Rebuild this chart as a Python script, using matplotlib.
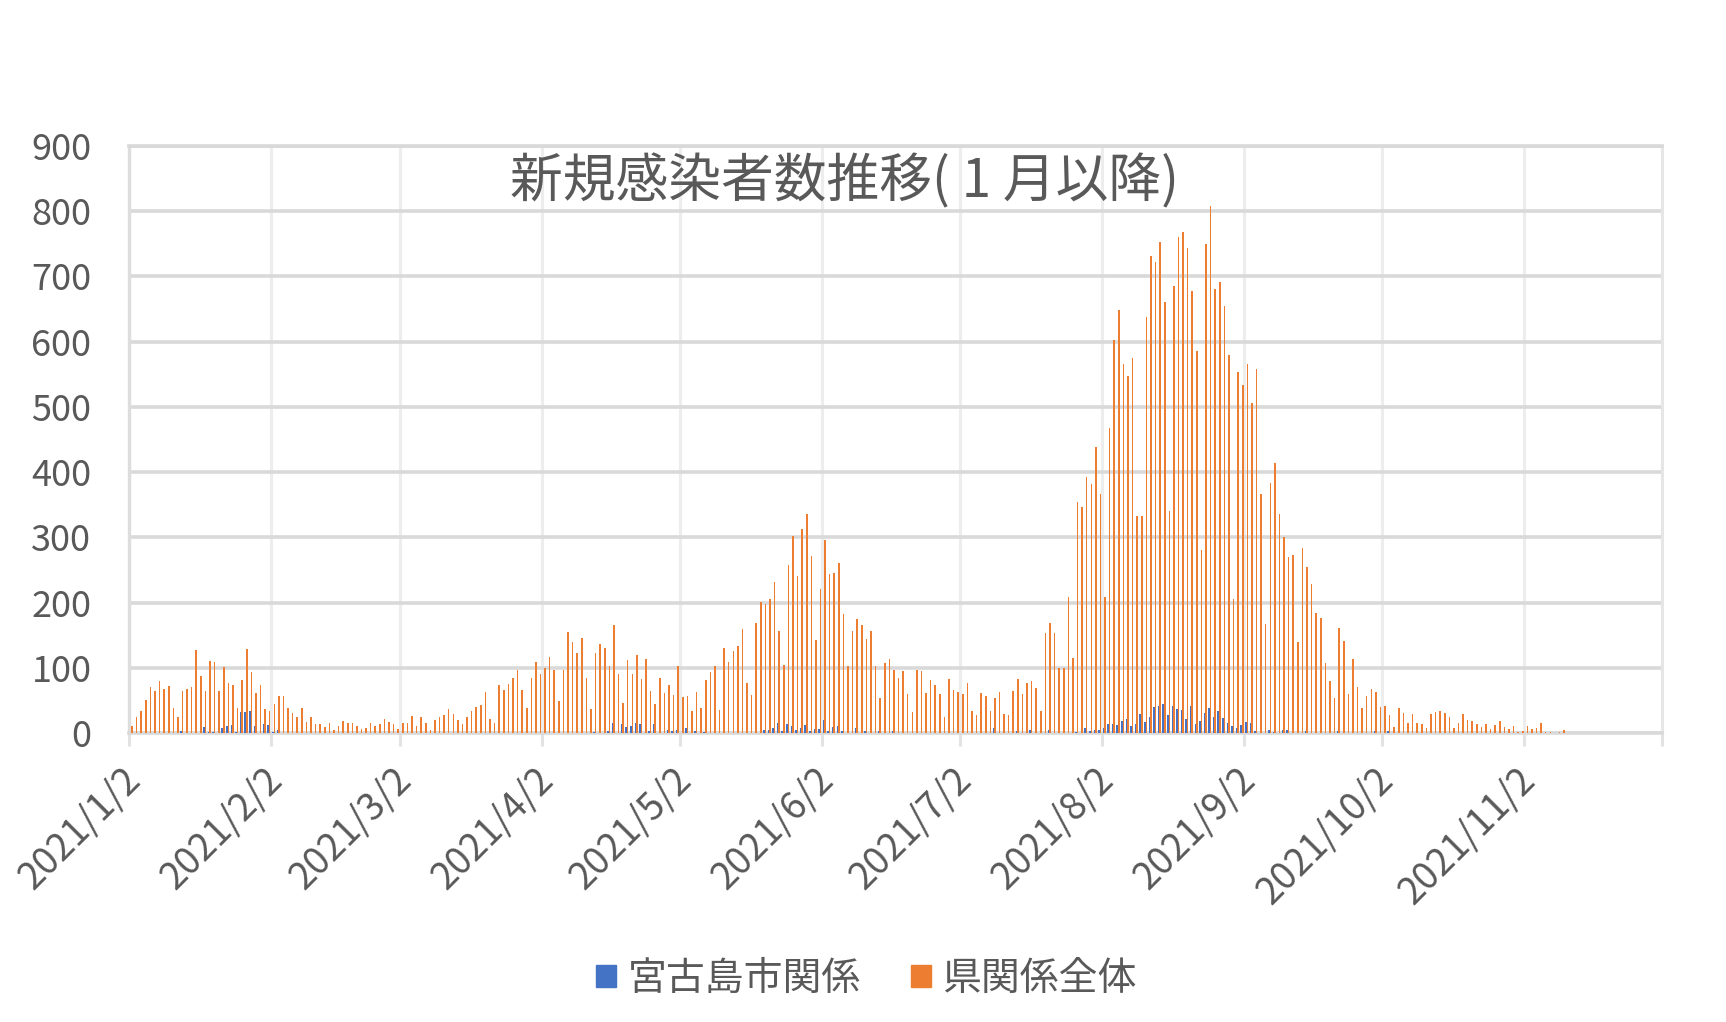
import matplotlib.pyplot as plt
from matplotlib.patches import Patch
from matplotlib.transforms import ScaledTranslation

plt.rcParams['font.family'] = ['Noto Sans CJK JP', 'DejaVu Sans']

# axis ticks: one per month, day offsets from 2021/1/2
month_starts = [0, 31, 59, 90, 120, 151, 181, 212, 243, 273, 304, 334]
month_labels = ['2021/1/2', '2021/2/2', '2021/3/2', '2021/4/2', '2021/5/2', '2021/6/2',
                '2021/7/2', '2021/8/2', '2021/9/2', '2021/10/2', '2021/11/2', '']

# 県関係全体 (daily), grouped by month starting on the 2nd
pref_jan = [10, 25, 34, 51, 70, 64, 80, 68, 72, 39, 25, 64, 68, 71, 127, 87, 65, 111, 109, 65,
            101, 77, 74, 39, 81, 129, 94, 61, 74, 37, 33]
pref_feb = [44, 57, 56, 39, 30, 25, 38, 17, 25, 14, 13, 9, 16, 4, 11, 18, 15, 16, 11, 6,
            8, 15, 10, 13, 21, 17, 13, 6]
pref_mar = [15, 16, 26, 11, 25, 16, 5, 20, 25, 27, 36, 29, 20, 14, 25, 33, 40, 43, 63, 21,
            16, 73, 66, 75, 85, 96, 66, 39, 85, 109, 90]
pref_apr = [100, 116, 96, 49, 97, 155, 140, 123, 145, 85, 36, 123, 136, 131, 103, 165, 90, 46, 112, 90,
            119, 83, 114, 65, 44, 85, 61, 74, 58, 103]
pref_may = [55, 56, 33, 63, 38, 81, 93, 103, 35, 130, 109, 125, 134, 160, 77, 58, 168, 201, 198, 206,
            231, 156, 104, 257, 302, 240, 312, 335, 272, 142, 220]
pref_jun = [296, 244, 245, 261, 182, 103, 157, 174, 166, 144, 156, 103, 53, 107, 114, 96, 84, 95, 60, 32,
            97, 95, 61, 81, 73, 60, 24, 82, 66, 63]
pref_jul = [60, 76, 33, 27, 61, 57, 34, 54, 63, 29, 27, 64, 82, 59, 76, 80, 69, 33, 154, 168,
            153, 100, 99, 209, 115, 354, 347, 392, 382, 439, 367]
pref_aug = [209, 468, 603, 648, 566, 548, 575, 333, 333, 638, 732, 722, 753, 661, 340, 685, 761, 768, 743, 677,
            585, 280, 750, 808, 680, 691, 655, 579, 206, 553, 534]
pref_sep = [565, 506, 558, 367, 167, 383, 414, 336, 301, 270, 273, 139, 284, 254, 229, 184, 176, 107, 79, 54,
            161, 141, 60, 114, 71, 39, 57, 68, 63, 40]
pref_oct = [42, 28, 9, 38, 30, 16, 29, 16, 14, 8, 29, 32, 34, 30, 25, 8, 16, 29, 20, 18,
            14, 9, 13, 6, 12, 18, 9, 6, 11, 2, 3]
pref_nov = [10, 6, 8, 15, 1, 2, 0, 1, 5]

# 宮古島市関係 (daily)
miya_jan = [0, 0, 0, 0, 0, 0, 0, 0, 0, 0, 0, 3, 0, 0, 0, 0, 9, 2, 2, 0,
            7, 10, 12, 2, 32, 32, 33, 10, 0, 14, 12]
miya_feb = [2, 5, 0, 0, 0, 0, 0, 0, 0, 0, 0, 0, 0, 0, 0, 0, 0, 0, 0, 0,
            0, 0, 0, 0, 0, 0, 0, 0]
miya_mar = [0, 0, 0, 0, 0, 0, 0, 0, 0, 0, 0, 0, 0, 0, 0, 0, 0, 0, 0, 0,
            0, 0, 0, 0, 0, 0, 0, 0, 0, 0, 0]
miya_apr = [0, 0, 0, 0, 0, 0, 0, 0, 0, 0, 0, 1, 0, 0, 3, 15, 0, 13, 9, 10,
            16, 13, 0, 3, 13, 0, 0, 4, 3, 4]
miya_may = [0, 8, 0, 3, 0, 2, 0, 0, 0, 0, 0, 0, 0, 0, 0, 0, 0, 0, 5, 5,
            7, 16, 3, 14, 10, 5, 8, 12, 3, 6, 6]
miya_jun = [20, 3, 9, 11, 3, 0, 0, 8, 0, 3, 0, 0, 3, 0, 0, 3, 0, 0, 0, 0,
            0, 0, 0, 0, 0, 0, 0, 0, 0, 0]
miya_jul = [0, 0, 0, 0, 0, 0, 0, 8, 0, 0, 0, 0, 3, 0, 0, 5, 0, 0, 0, 5,
            0, 0, 0, 0, 0, 2, 0, 8, 3, 4, 4]
miya_aug = [7, 14, 14, 12, 18, 21, 11, 14, 29, 17, 24, 40, 42, 45, 28, 42, 36, 35, 22, 41,
            14, 19, 30, 39, 25, 34, 23, 15, 10, 8, 12]
miya_sep = [17, 16, 3, 0, 0, 4, 1, 0, 5, 4, 0, 0, 0, 3, 0, 0, 0, 0, 0, 0,
            3, 0, 0, 0, 0, 0, 0, 0, 3, 0]
miya_oct = [0, 3, 0, 0, 0, 0, 0, 0, 0, 0, 0, 0, 0, 0, 0, 0, 0, 0, 0, 0,
            0, 0, 0, 0, 0, 0, 0, 0, 0, 0, 0]
miya_nov = [0, 0, 0, 0, 0, 0, 0, 0, 0]

pref_total = (pref_jan + pref_feb + pref_mar + pref_apr + pref_may + pref_jun
              + pref_jul + pref_aug + pref_sep + pref_oct + pref_nov)
miyako = (miya_jan + miya_feb + miya_mar + miya_apr + miya_may + miya_jun
          + miya_jul + miya_aug + miya_sep + miya_oct + miya_nov)
days = list(range(len(pref_total)))

blue = '#4472C4'
orange = '#ED7D31'
text_col = '#595959'

fig = plt.figure(figsize=(17.26, 10.22), dpi=100)
ax = fig.add_axes([0.0747, 0.2828, 0.8882, 0.5744])

w = 0.34
ax.bar([d + 0.5 - w / 2 for d in days], miyako, width=w, color=blue, linewidth=0, zorder=3)
ax.bar([d + 0.5 + w / 2 for d in days], pref_total, width=w, color=orange, linewidth=0, zorder=3)

ax.set_xlim(0, 334)
ax.set_ylim(0, 900)
ax.set_yticks(range(0, 901, 100))
ax.set_xticks(month_starts)
ax.set_xticklabels([])

# rotated date labels, placed by hand so they can sit a bit right of the tick
lab_trans = ax.get_xaxis_transform() + ScaledTranslation(0.055, -0.41, fig.dpi_scale_trans)
for pos, lab in zip(month_starts, month_labels):
    ax.text(pos, 0, lab, transform=lab_trans, rotation=45, ha='right', va='center',
            rotation_mode='anchor', fontsize=27, color=text_col)

ax.grid(axis='y', color='#D9D9D9', linewidth=2.6, zorder=0)
ax.grid(axis='x', color='#EDEDED', linewidth=2.2, zorder=0)
ax.set_axisbelow(True)

for side in ['top', 'bottom']:
    ax.spines[side].set_color('#D9D9D9')
    ax.spines[side].set_linewidth(2.6)
ax.spines['left'].set_color('#DDDDDD')
ax.spines['left'].set_linewidth(2.4)
ax.spines['right'].set_color('#E6E6E6')
ax.spines['right'].set_linewidth(2.2)

ax.tick_params(axis='y', length=0, pad=27, labelsize=26, labelcolor=text_col)
ax.tick_params(axis='x', length=9, width=2.2, color='#E3E3E3')

fig.text(0.489, 0.822, '新規感染者数推移( 1 月以降)', ha='center', va='center',
         fontsize=38, color=text_col)

handles = [Patch(color=blue, label='宮古島市関係'), Patch(color=orange, label='県関係全体')]
fig.legend(handles=handles, loc='center', bbox_to_anchor=(0.502, 0.042), ncol=2, frameon=False,
           fontsize=28, handlelength=0.5, handleheight=0.5, handletextpad=0.3,
           columnspacing=1.3, labelcolor=text_col)

fig.savefig('out.png', dpi=100)
